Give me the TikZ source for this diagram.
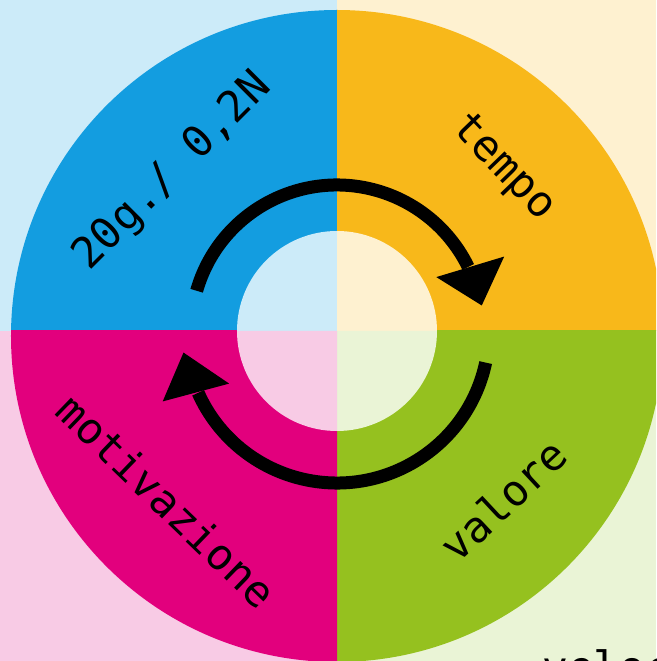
\documentclass[tikz,border=0pt]{standalone}
\usepackage{fontspec}
\setmonofont{DejaVu Sans Mono}
\definecolor{bgblue}{HTML}{CCEBF9}
\definecolor{qblue}{HTML}{139DE0}
\definecolor{bgyellow}{HTML}{FEF1D0}
\definecolor{qorange}{HTML}{F8B81A}
\definecolor{bgpink}{HTML}{F8CBE5}
\definecolor{qmagenta}{HTML}{E2007D}
\definecolor{bggreen}{HTML}{EAF4D6}
\definecolor{qgreen}{HTML}{95C11F}
\begin{document}
\begin{tikzpicture}[x=1pt,y=1pt,
  lbl/.style={font=\ttfamily\fontsize{43}{43}\selectfont, inner sep=0pt, text=black},
  arrowline/.style={line width=13pt, black}]
\useasboundingbox (-337,-330) rectangle (319,331);
\clip (-337,-330) rectangle (319,331);
% background quadrants
\fill[bgblue] (-337,0) rectangle (0,331);
\fill[bgyellow] (0,0) rectangle (319,331);
\fill[bgpink] (-337,-330) rectangle (0,0);
\fill[bggreen] (0,-330) rectangle (319,0);
% ring quadrants (outer circle centred slightly lower)
\coordinate (oc) at (0,-5);
\begin{scope}
  \clip (-337,0) rectangle (0,331);
  \fill[qblue] (oc) circle[radius=326];
\end{scope}
\begin{scope}
  \clip (0,0) rectangle (319,331);
  \fill[qorange] (oc) circle[radius=326];
\end{scope}
\begin{scope}
  \clip (0,-330) rectangle (319,0);
  \fill[qgreen] (oc) circle[radius=326];
\end{scope}
\begin{scope}
  \clip (-337,-330) rectangle (0,0);
  \fill[qmagenta] (oc) circle[radius=326];
\end{scope}
% inner circle quadrants
\fill[bgblue] (0,0) -- (-100,0) arc[start angle=180,end angle=90,radius=100] -- cycle;
\fill[bgyellow] (0,0) -- (0,100) arc[start angle=90,end angle=0,radius=100] -- cycle;
\fill[bggreen] (0,0) -- (100,0) arc[start angle=0,end angle=-90,radius=100] -- cycle;
\fill[bgpink] (0,0) -- (0,-100) arc[start angle=-90,end angle=-180,radius=100] -- cycle;
% circular arrows
\draw[arrowline] (164:146) arc[start angle=164,end angle=26,radius=146];
\fill[black] (10:147) -- (28.5:113) -- (24:183) -- cycle;
\draw[arrowline] (-12:152) arc[start angle=-12,end angle=-156,radius=152];
\fill[black] (188:155) -- (206:120) -- (202:188) -- cycle;
% labels
\node[lbl, rotate=45] (load) at (-164,159) {20g./ 0,2N};
\node[lbl, rotate=-46] (tempo) at (166,163) {tempo};
\node[lbl, rotate=43] (valore) at (166,-169) {valore};
\node[lbl, rotate=-44] (motiv) at (-170,-170) {motivazione};
\node[lbl, anchor=base west] (veloce) at (205,-351) {veloce};
\end{tikzpicture}
\end{document}
